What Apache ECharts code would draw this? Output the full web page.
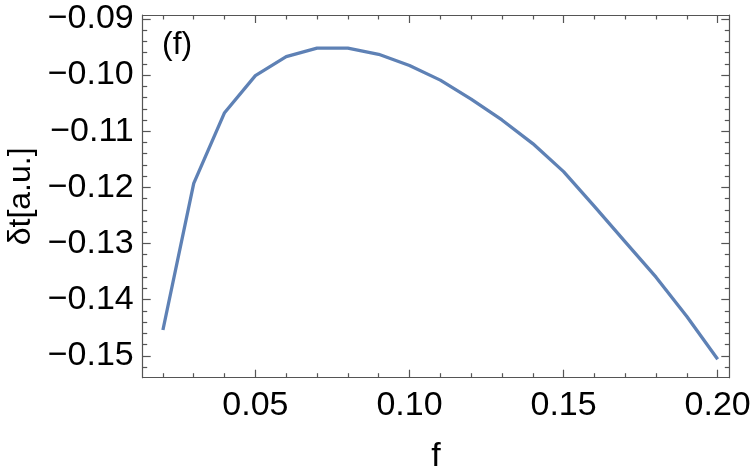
<!DOCTYPE html>
<html>
<head>
<meta charset="utf-8">
<script src="https://cdn.jsdelivr.net/npm/echarts@6/dist/echarts.min.js"></script>
<style>html,body{margin:0;padding:0;background:#fff;}#c{width:750px;height:473px;}</style>
</head>
<body>
<div id="c"></div>
<script>
var fValues = [0.02,0.03,0.04,0.05,0.06,0.07,0.08,0.09,0.10,0.11,0.12,0.13,0.14,0.15,0.16,0.17,0.18,0.19,0.20];
var dtValues = [-0.1454,-0.1193,-0.1067,-0.1001,-0.0967,-0.0952,-0.0952,-0.0963,-0.0983,-0.1009,-0.1043,-0.1080,-0.1122,-0.1172,-0.1234,-0.1297,-0.1360,-0.1430,-0.1506];
var xMajorTicks = [0.05,0.10,0.15,0.20];
var yMajorTicks = [-0.15,-0.14,-0.13,-0.12,-0.11,-0.10,-0.09];
var xRange = [0.01344, 0.20377];
var yRange = [-0.1539, -0.0893];
var panelLabel = '(f)';
var xTitle = 'f';
var yTitle = 'δt[a.u.]';

function minorList(lo, hi, step, majors) {
  var out = [];
  var start = Math.ceil(lo / step - 1e-9);
  var end = Math.floor(hi / step + 1e-9);
  for (var i = start; i <= end; i++) {
    var v = +(i * step).toFixed(6);
    var isMajor = majors.some(function (m) { return Math.abs(m - v) < 1e-9; });
    if (!isMajor) out.push(v);
  }
  return out;
}
var xMinorTicks = minorList(xRange[0], xRange[1], 0.01, xMajorTicks);
var yMinorTicks = minorList(yRange[0], yRange[1], 0.002, yMajorTicks);

var FONT = 'Liberation Sans, Arial, sans-serif';
var AXC = '#555555';

function xAx(pos, ticks, len, showLine, showLabel, extra) {
  var a = {
    type: 'value', position: pos, min: xRange[0], max: xRange[1],
    axisLine: {show: showLine, lineStyle: {color: AXC, width: 1.2}},
    axisTick: {show: true, inside: true, length: len, customValues: ticks, lineStyle: {color: AXC, width: 1.2}},
    axisLabel: {show: showLabel, customValues: ticks, color: '#000', fontFamily: FONT, fontSize: 34, margin: 11,
      formatter: function (v) { return v.toFixed(2); }},
    splitLine: {show: false}
  };
  return Object.assign(a, extra || {});
}
function yAx(pos, ticks, len, showLine, showLabel, extra) {
  var a = {
    type: 'value', position: pos, min: yRange[0], max: yRange[1],
    axisLine: {show: showLine, lineStyle: {color: AXC, width: 1.2}},
    axisTick: {show: true, inside: true, length: len, customValues: ticks, lineStyle: {color: AXC, width: 1.2}},
    axisLabel: {show: showLabel, customValues: ticks, color: '#000', fontFamily: FONT, fontSize: 34, margin: 9,
      formatter: function (v) { return '\u2212' + Math.abs(v).toFixed(2); }},
    splitLine: {show: false}
  };
  return Object.assign(a, extra || {});
}

var chart = echarts.init(document.getElementById('c'), null, {renderer: 'canvas'});
chart.setOption({
  animation: false,
  backgroundColor: '#fff',
  grid: {left: 142.7, right: 20.7, top: 15, bottom: 95.3, containLabel: false, outerBoundsMode: 'none'},
  xAxis: [
    xAx('bottom', xMajorTicks, 8, true, true, {name: xTitle, nameLocation: 'middle', nameGap: 62,
      nameTextStyle: {color: '#000', fontFamily: FONT, fontSize: 34}}),
    xAx('bottom', xMinorTicks, 4.5, false, false),
    xAx('top', xMajorTicks, 8, true, false),
    xAx('top', xMinorTicks, 4.5, false, false)
  ],
  yAxis: [
    yAx('left', yMajorTicks, 8, true, true, {name: yTitle, nameLocation: 'middle', nameGap: 104,
      nameTextStyle: {color: '#000', fontFamily: FONT, fontSize: 32}}),
    yAx('left', yMinorTicks, 4.5, false, false),
    yAx('right', yMajorTicks, 8, true, false),
    yAx('right', yMinorTicks, 4.5, false, false)
  ],
  graphic: [{type: 'text', left: 162, top: 29, style: {text: panelLabel, fill: '#000', font: '32px ' + FONT}}],
  series: [{
    type: 'line', xAxisIndex: 0, yAxisIndex: 0,
    data: fValues.map(function (f, i) { return [f, dtValues[i]]; }),
    showSymbol: false, symbol: 'none',
    lineStyle: {color: '#5E81B5', width: 3.3},
    clip: false
  }]
});
</script>
</body>
</html>
